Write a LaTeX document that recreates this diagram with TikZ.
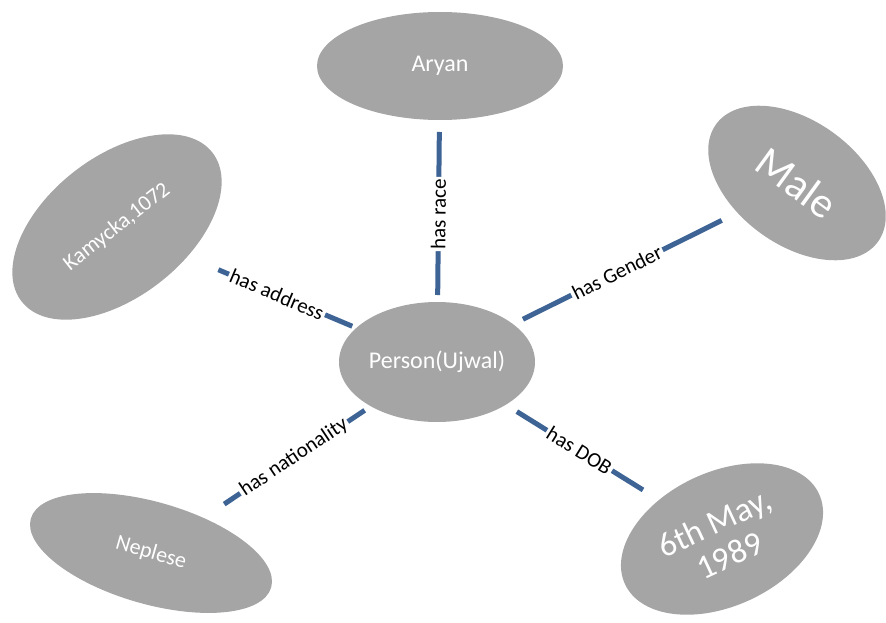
\documentclass[tikz,border=0pt]{standalone}
\usepackage{fontspec}
\setmainfont{Carlito}
\usetikzlibrary{shapes.geometric}
\definecolor{conceptgray}{HTML}{A5A5A5}
\definecolor{linkblue}{RGB}{62,100,150}

\begin{document}
\begin{tikzpicture}[x=1pt, y=-1pt,
      concept/.style={ellipse, fill=conceptgray, text=white, inner sep=0pt,
        align=center, font=\fontsize{24}{28}\selectfont},
      link/.style={draw=linkblue, line width=5pt},
      rel/.style={midway, sloped, fill=white, inner sep=2pt, text=black,
        font=\fontsize{21}{25}\selectfont}
    ]
    \useasboundingbox (0,0) rectangle (886,623);

    \node[concept, minimum width=196, minimum height=120] (person) at (437,362)
      {Person(Ujwal)};
    \node[concept, minimum width=246, minimum height=108] (race) at (440,66)
      {Aryan};
    \node[concept, minimum width=242, minimum height=140, rotate=38,
      font=\fontsize{22}{26}\selectfont] (address) at (117,227) {Kamycka,1072};
    \node[concept, minimum width=200, minimum height=124, rotate=-36,
      font=\fontsize{43}{48}\selectfont] (gender) at (797,183) {Male};
    \node[concept, minimum width=250, minimum height=102, rotate=-16,
      font=\fontsize{22}{26}\selectfont] (nationality) at (151,553) {Neplese};
    \node[concept, minimum width=214, minimum height=134, rotate=25,
      font=\fontsize{34}{36}\selectfont] (dob) at (722,539) {6th May,\\1989};

    \draw[link, shorten <=67pt, shorten >=66pt] (person.center) -- (race.center)
      node[rel] {has race};
    \draw[link, shorten <=92pt, shorten >=110pt] (person.center) -- (address.center)
      node[rel] {has address};
    \draw[link, shorten <=96pt, shorten >=84pt] (person.center) -- (gender.center)
      node[rel] {has Gender};
    \draw[link, shorten <=87pt, shorten >=88pt] (person.center) -- (nationality.center)
      node[rel] {has nationality};
    \draw[link, shorten <=94pt, shorten >=93pt] (person.center) -- (dob.center)
      node[rel] {has DOB};
  \end{tikzpicture}
\end{document}
